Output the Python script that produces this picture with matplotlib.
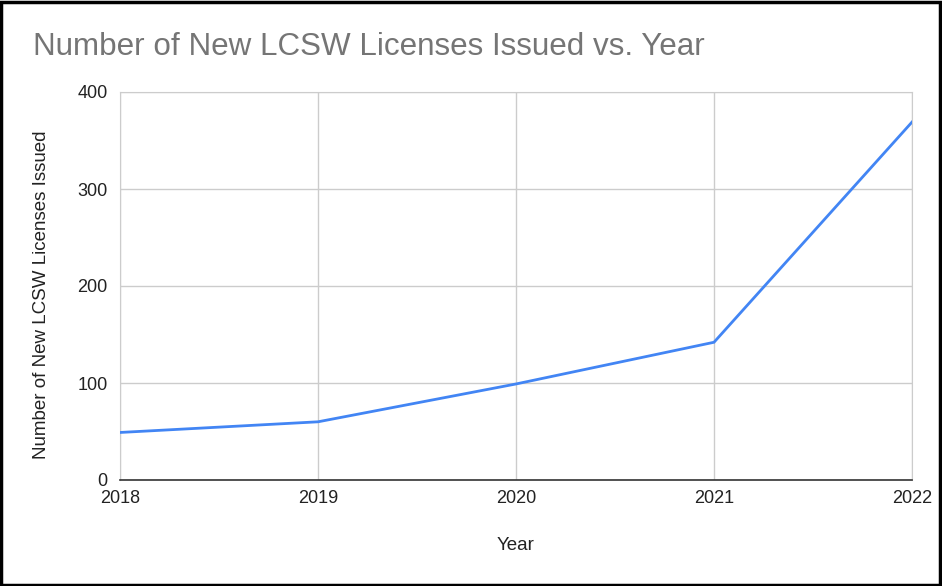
import matplotlib.pyplot as plt
from matplotlib.patches import Rectangle

plt.rcParams['font.family'] = ['Liberation Sans', 'DejaVu Sans']

# Данные
years = [2018, 2019, 2020, 2021, 2022]
licenses = [49, 60, 99, 142, 369]
y_ticks = [0, 100, 200, 300, 400]

fig = plt.figure(figsize=(9.42, 5.86), dpi=100)
ax = fig.add_axes([120 / 942, 1 - 480 / 586, 792 / 942, 388 / 586])

ax.plot(years, licenses, color='#4285F4', linewidth=2.0, solid_joinstyle='miter', zorder=3)

ax.set_xlim(years[0], years[-1])
ax.set_ylim(y_ticks[0], y_ticks[-1])
ax.set_xticks(years)
ax.set_yticks(y_ticks)
ax.grid(True, color='#cccccc', linewidth=1.0)
ax.set_axisbelow(True)

for side in ['top', 'right', 'left']:
    ax.spines[side].set_color('#cccccc')
ax.spines['bottom'].set_color('#333333')
ax.spines['bottom'].set_linewidth(1.2)
ax.spines['bottom'].set_zorder(4)

ax.tick_params(length=0, labelsize=13, labelcolor='#222222')
ax.tick_params(axis='y', pad=9)
ax.tick_params(axis='x', pad=7)

ax.set_xlabel('Year', fontsize=13.5, color='#222222', labelpad=22)
ax.set_ylabel('Number of New LCSW Licenses Issued', fontsize=13.5, color='#222222')
ax.yaxis.set_label_coords(-0.088, 0.477)

fig.text(33 / 942, 1 - 47 / 586, 'Number of New LCSW Licenses Issued vs. Year',
         fontsize=22.6, color='#757575', va='center', ha='left')

# Рамка вокруг всего рисунка
fig.patches.append(Rectangle((0.001, 0.002), 0.997, 0.995, transform=fig.transFigure,
                             fill=False, edgecolor='black', linewidth=2.5))

fig.savefig('out.png', dpi=100)
